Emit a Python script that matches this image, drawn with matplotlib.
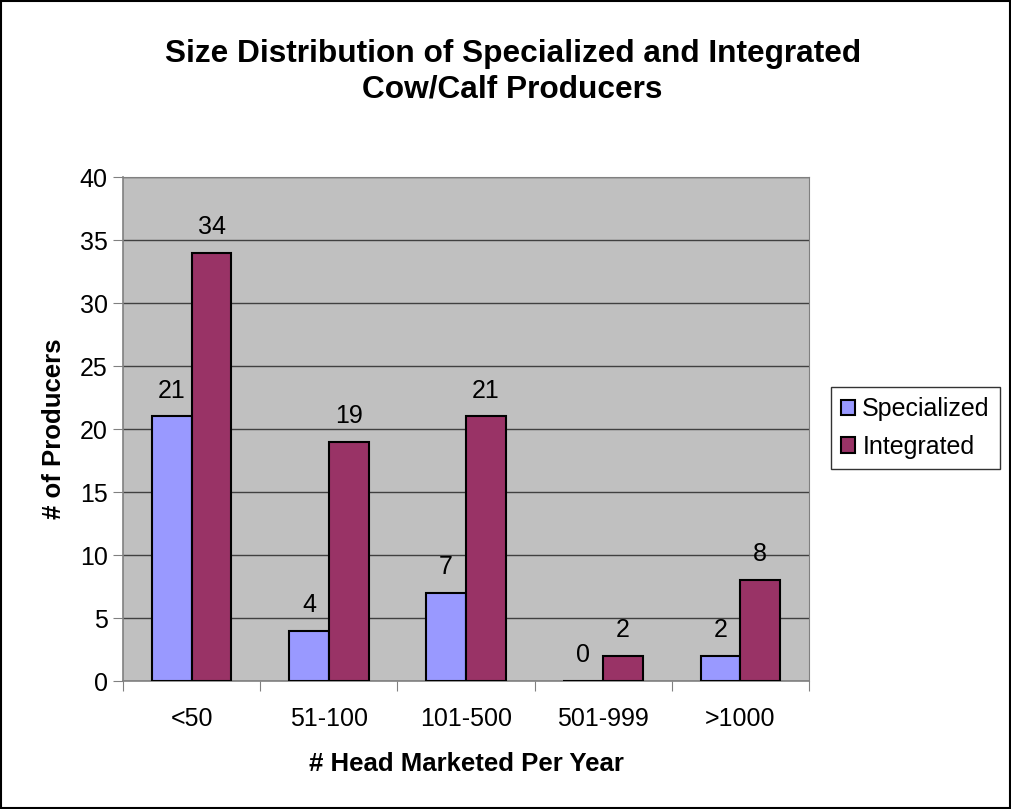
import numpy as np
import matplotlib.pyplot as plt

plt.rcParams['font.family'] = ['Liberation Sans', 'DejaVu Sans']

categories = ['<50', '51-100', '101-500', '501-999', '>1000']
specialized = [21, 4, 7, 0, 2]
integrated = [34, 19, 21, 2, 8]

fig = plt.figure(figsize=(10.11, 8.09), dpi=100)
ax = fig.add_axes([0.1217, 0.1582, 0.6785, 0.623])
ax.set_facecolor('#C0C0C0')

x = np.arange(len(categories))
w = 0.29
b1 = ax.bar(x - w/2, specialized, w, color='#9999FF', edgecolor='black', linewidth=1.5, label='Specialized', zorder=3)
b2 = ax.bar(x + w/2, integrated, w, color='#993366', edgecolor='black', linewidth=1.5, label='Integrated', zorder=3)

for bars, vals in [(b1, specialized), (b2, integrated)]:
    for rect, v in zip(bars, vals):
        ax.annotate(str(v), (rect.get_x() + rect.get_width()/2, v), xytext=(0, 10),
                    textcoords='offset points', ha='center', va='bottom', fontsize=18, zorder=4)

ax.set_xlim(-0.5, 4.5)
ax.set_ylim(0, 40)
ax.set_yticks(range(0, 41, 5))
ax.yaxis.grid(True, color='#404040', linewidth=1, zorder=1)
ax.set_xticks(np.arange(-0.5, 5, 1))
ax.set_xticklabels([])
ax.set_xticks(x, minor=True)
ax.set_xticklabels(categories, minor=True, fontsize=18)
ax.tick_params(axis='x', which='minor', length=0, pad=19)
ax.tick_params(axis='x', which='major', length=7, color='#808080', direction='out')
ax.tick_params(axis='y', length=7, color='#808080', labelsize=18, pad=4)
for s in ['top', 'right']:
    ax.spines[s].set_color('#808080')
for s in ['left', 'bottom']:
    ax.spines[s].set_color('#808080')
    ax.spines[s].set_linewidth(1.2)

ax.set_xlabel('# Head Marketed Per Year', fontsize=18.5, fontweight='bold', labelpad=15)
ax.set_ylabel('# of Producers', fontsize=18.5, fontweight='bold', labelpad=10)

fig.text(0.507, 0.911, 'Size Distribution of Specialized and Integrated\nCow/Calf Producers',
         ha='center', va='center', fontsize=22.8, fontweight='bold', linespacing=1.25)

leg = fig.legend(loc='center left', bbox_to_anchor=(0.822, 0.471), fontsize=18, frameon=True,
                 fancybox=False, edgecolor='black', handlelength=0.55, handleheight=0.55,
                 handletextpad=0.3, borderpad=0.4, labelspacing=0.55, borderaxespad=0)
leg.get_frame().set_linewidth(1)

fig.patches.append(plt.Rectangle((0.001, 0.001), 0.998, 0.998, transform=fig.transFigure,
                                 fill=False, edgecolor='black', linewidth=1.5))

fig.savefig('out.png', dpi=100)
